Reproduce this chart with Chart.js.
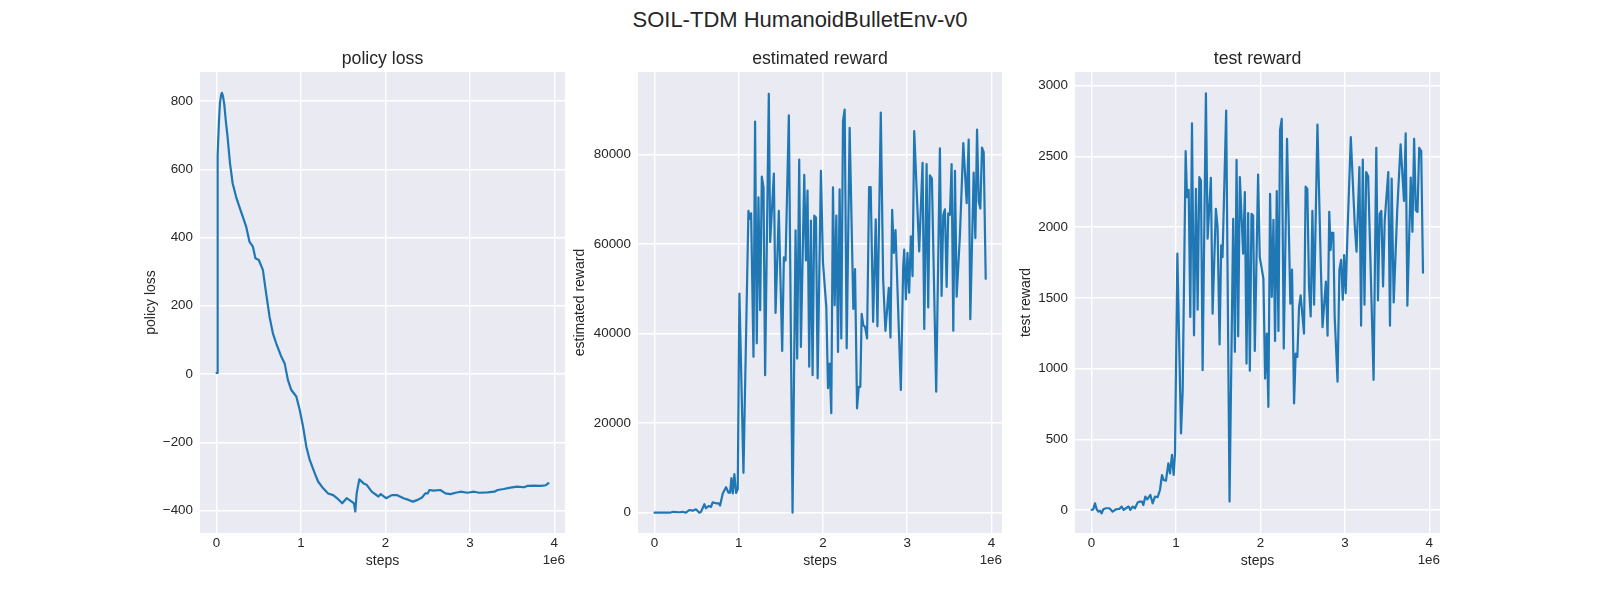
<!DOCTYPE html>
<html>
<head>
<meta charset="utf-8">
<script src="https://cdn.jsdelivr.net/npm/chart.js@4.4.0/dist/chart.umd.min.js"></script>
<style>
  html, body { margin: 0; padding: 0; background: #ffffff; }
  #fig { position: relative; width: 1600px; height: 600px; overflow: hidden; background: #ffffff; }
  .cv { position: absolute; top: 0; }
  #suptitle { position: absolute; left: 0; width: 1600px; top: 9px; text-align: center;
    font-family: "Liberation Sans", Arial, sans-serif; font-size: 22px; line-height: 22px; color: #262626; }
</style>
</head>
<body>
<div id="fig">
  <div id="suptitle">SOIL-TDM HumanoidBulletEnv-v0</div>
  <canvas id="c1" class="cv"></canvas>
  <canvas id="c2" class="cv"></canvas>
  <canvas id="c3" class="cv"></canvas>
</div>
<script>
// ---------------- data ----------------
const panelTitles = ['policy loss', 'estimated reward', 'test reward'];
const xAxisLabel = 'steps';
const xOffsetText = '1e6';
const xTickValues = [0, 1000000, 2000000, 3000000, 4000000];
const policyTicks = [-400, -200, 0, 200, 400, 600, 800];
const estTicks = [0, 20000, 40000, 60000, 80000];
const testTicks = [0, 500, 1000, 1500, 2000, 2500, 3000];

const policySteps = [0, 5000, 9000, 12000, 16000, 28000, 40000, 55000, 63000, 75000,
  91000, 110000, 130000, 159000, 190000, 230000, 270000, 310000, 350000, 389000,
  430000, 460000, 500000, 548000, 587000, 627000, 667000, 706000, 766000, 806000,
  845000, 885000, 944000, 984000, 1024000, 1063000, 1103000, 1163000, 1202000, 1262000,
  1321000, 1381000, 1440000, 1488000, 1540000, 1600000, 1627000, 1643000, 1659000, 1690000,
  1738000, 1778000, 1837000, 1917000, 1944000, 2008000, 2075000, 2135000, 2214000, 2274000,
  2325000, 2381000, 2433000, 2472000, 2500000, 2520000, 2570000, 2650000, 2710000, 2770000,
  2830000, 2890000, 2970000, 3050000, 3110000, 3210000, 3290000, 3330000, 3400000, 3480000,
  3560000, 3640000, 3680000, 3760000, 3840000, 3900000, 3930000];
const policyLoss = [3, 3, 300, 570, 640, 740, 795, 820, 824, 815,
  790, 740, 695, 617, 559, 520, 490, 461, 432, 388,
  373, 339, 334, 305, 236, 168, 119, 90, 51, 31,
  -18, -47, -66, -105, -154, -213, -252, -291, -315, -335,
  -350, -355, -367, -379, -364, -374, -379, -403, -350, -309,
  -320, -325, -345, -359, -352, -364, -355, -355, -364, -369,
  -374, -369, -362, -350, -350, -340, -342, -340, -350, -352,
  -348, -345, -348, -345, -348, -347, -345, -340, -337, -333,
  -330, -332, -328, -327, -328, -326, -320];

const estSteps = [0, 180000, 220000, 294000, 333000, 373000, 413000, 452000, 492000, 532000,
  552000, 592000, 611000, 643000, 671000, 690000, 730000, 762000, 778000, 810000,
  849000, 877000, 897000, 913000, 929000, 948000, 968000, 988000, 1008000, 1056000,
  1115000, 1131000, 1147000, 1175000, 1194000, 1214000, 1234000, 1254000, 1274000, 1294000,
  1313000, 1357000, 1373000, 1417000, 1437000, 1476000, 1516000, 1536000, 1556000, 1595000,
  1639000, 1675000, 1694000, 1718000, 1738000, 1778000, 1798000, 1817000, 1837000, 1857000,
  1877000, 1897000, 1917000, 1937000, 1976000, 2000000, 2040000, 2060000, 2079000, 2099000,
  2119000, 2139000, 2159000, 2179000, 2198000, 2218000, 2238000, 2258000, 2282000, 2317000,
  2361000, 2381000, 2405000, 2425000, 2444000, 2460000, 2480000, 2500000, 2524000, 2548000,
  2567000, 2596000, 2627000, 2647000, 2687000, 2715000, 2742000, 2782000, 2802000, 2822000,
  2842000, 2862000, 2925000, 2953000, 2965000, 2985000, 3004000, 3024000, 3044000, 3064000,
  3084000, 3143000, 3183000, 3203000, 3231000, 3250000, 3270000, 3294000, 3345000, 3389000,
  3409000, 3429000, 3449000, 3469000, 3488000, 3508000, 3528000, 3548000, 3568000, 3588000,
  3627000, 3667000, 3707000, 3731000, 3750000, 3790000, 3810000, 3830000, 3850000, 3869000,
  3889000, 3909000, 3933000];
const estReward = [0, 0, 200, 100, 200, 0, 600, 450, 750, 0,
  200, 1900, 1000, 1500, 1300, 2300, 2100, 2100, 1600, 4300,
  5700, 4500, 4500, 7700, 4300, 8600, 4400, 5200, 48900, 8900,
  67400, 65600, 66800, 34800, 87300, 37800, 70400, 45200, 75000, 72600,
  30700, 93500, 60400, 75700, 44600, 67400, 36100, 57000, 56300, 88700,
  0, 63000, 34400, 78800, 37000, 75400, 56300, 71900, 32600, 65200,
  30700, 66300, 65900, 30000, 76300, 55900, 45900, 27800, 33300, 22200,
  72600, 46300, 66300, 35900, 72200, 38900, 87400, 90000, 36700, 85900,
  45500, 54400, 23300, 28100, 28100, 44400, 41800, 41500, 38900, 72700,
  72700, 42600, 65500, 41600, 89300, 52000, 40600, 50200, 39100, 67600,
  58000, 63100, 27400, 54900, 58700, 47600, 58000, 49100, 61700, 52800,
  85200, 58300, 78100, 41000, 77800, 45800, 75300, 74600, 27000, 81300,
  48400, 66500, 67700, 50400, 66800, 66500, 77800, 40600, 76300, 48200,
  62000, 82500, 69100, 83300, 43200, 75900, 61300, 85500, 69400, 67900,
  81500, 80500, 52200];

const testSteps = [0, 20000, 40000, 60000, 80000, 100000, 119000, 139000, 170000, 210000,
  250000, 290000, 328000, 356000, 380000, 407000, 439000, 459000, 486000, 514000,
  545000, 573000, 597000, 613000, 636000, 660000, 696000, 723000, 751000, 782000,
  810000, 834000, 853000, 881000, 909000, 929000, 952000, 972000, 988000, 1016000,
  1059000, 1079000, 1114000, 1130000, 1150000, 1169000, 1189000, 1213000, 1236000, 1256000,
  1276000, 1295000, 1315000, 1354000, 1374000, 1413000, 1433000, 1472000, 1492000, 1516000,
  1535000, 1551000, 1594000, 1634000, 1677000, 1697000, 1717000, 1736000, 1756000, 1795000,
  1815000, 1835000, 1854000, 1874000, 1894000, 1913000, 1933000, 1972000, 1992000, 2035000,
  2055000, 2075000, 2094000, 2114000, 2134000, 2154000, 2173000, 2193000, 2213000, 2232000,
  2252000, 2276000, 2315000, 2354000, 2374000, 2398000, 2417000, 2437000, 2457000, 2476000,
  2516000, 2535000, 2555000, 2575000, 2595000, 2615000, 2635000, 2675000, 2715000, 2735000,
  2775000, 2795000, 2815000, 2831000, 2843000, 2863000, 2879000, 2913000, 2935000, 2955000,
  2975000, 2991000, 3010000, 3030000, 3070000, 3118000, 3138000, 3172000, 3192000, 3212000,
  3232000, 3252000, 3276000, 3340000, 3372000, 3392000, 3412000, 3432000, 3452000, 3472000,
  3514000, 3534000, 3554000, 3578000, 3620000, 3660000, 3700000, 3720000, 3740000, 3780000,
  3800000, 3820000, 3840000, 3860000, 3880000, 3904000, 3925000];
const testReward = [0, 5, 47, 5, -12, -5, -24, 5, 12, 12,
  -12, 5, 7, 24, 0, 12, 24, 0, 24, 12,
  52, 59, 59, 35, 94, 75, 106, 47, 94, 90,
  141, 247, 212, 207, 330, 259, 389, 247, 400, 1812,
  541, 847, 2537, 2212, 2264, 1365, 2734, 1235, 2271, 1416,
  2353, 2330, 988, 2946, 1918, 2348, 1388, 2130, 2000, 1170,
  1871, 1788, 2824, 59, 2059, 1118, 2475, 1228, 2353, 1812,
  2247, 1035, 2099, 984, 2094, 2082, 1125, 2372, 1788, 1635,
  929, 1247, 729, 2235, 1506, 2052, 1195, 2254, 1266, 2687,
  2765, 1141, 2624, 1459, 1699, 753, 1106, 1082, 1435, 1518,
  1247, 2287, 2271, 1580, 1369, 2115, 1451, 2725, 1721, 1293,
  1615, 1232, 2108, 1838, 1960, 1960, 1369, 907, 1697, 1768,
  1486, 1803, 1533, 1944, 2636, 2002, 1826, 2425, 1303, 2477,
  1451, 2390, 2359, 920, 2561, 1481, 2092, 2115, 1580, 2050,
  2390, 1303, 2343, 1467, 2120, 2585, 2185, 2664, 1444, 2350,
  1967, 2624, 2120, 2108, 2561, 2538, 1678];

// ---------------- layout / style ----------------
const FONT = '"Liberation Sans", Arial, sans-serif';
const TXT = '#262626';
const LINE = '#1f77b4';
const BG = '#EAEAF2';
const Y_AXIS_W = 90, X_AXIS_H = 45, PAD_R = 40, CANVAS_H = 600;
const PLOT_TOP = 72, PLOT_BOTTOM = 533;

const X_MIN = -196500, X_MAX = 4126500;

function fmtNum(v) {
  const s = String(Math.round(v));
  return s.replace('-', '\u2212');
}

const bgPlugin = {
  id: 'axesBg',
  beforeDraw(chart) {
    const a = chart.chartArea, ctx = chart.ctx;
    ctx.save();
    ctx.fillStyle = BG;
    ctx.fillRect(a.left, a.top, a.right - a.left, a.bottom - a.top);
    ctx.restore();
  },
  afterDraw(chart) {
    const a = chart.chartArea, ctx = chart.ctx;
    ctx.save();
    ctx.fillStyle = TXT;
    ctx.font = '13.4px ' + FONT;
    ctx.textAlign = 'right';
    ctx.textBaseline = 'middle';
    ctx.fillText(xOffsetText, a.right, 560);
    ctx.restore();
  }
};

function makeChart(id, plotLeft, plotRight, title, steps, values, yMin, yMax, yTicks, yTitlePad) {
  const cv = document.getElementById(id);
  const left = plotLeft - Y_AXIS_W;
  const width = (plotRight - plotLeft) + Y_AXIS_W + PAD_R;
  cv.width = width; cv.height = CANVAS_H;
  cv.style.left = left + 'px';
  cv.style.width = width + 'px'; cv.style.height = CANVAS_H + 'px';
  const data = steps.map((x, i) => ({x: x, y: values[i]}));
  const titleLH = 17.7 * 1.2;
  const titlePadTop = 48.9;
  const titlePadBottom = PLOT_TOP - titlePadTop - titleLH;
  return new Chart(cv, {
    type: 'line',
    data: { datasets: [{ data: data, borderColor: LINE, borderWidth: 2.2, pointRadius: 0,
      tension: 0, fill: false, borderJoinStyle: 'round', borderCapStyle: 'round' }] },
    plugins: [bgPlugin],
    options: {
      responsive: false, animation: false, devicePixelRatio: 1,
      layout: { padding: { left: 0, right: PAD_R, top: 0, bottom: CANVAS_H - PLOT_BOTTOM - X_AXIS_H } },
      plugins: {
        legend: { display: false }, tooltip: { enabled: false },
        title: { display: true, text: title, fullSize: false, color: TXT,
          font: { family: FONT, size: 17.7, weight: 'normal', lineHeight: 1.2 },
          padding: { top: titlePadTop, bottom: titlePadBottom } }
      },
      scales: {
        x: {
          type: 'linear', min: X_MIN, max: X_MAX,
          border: { display: false },
          grid: { color: '#ffffff', lineWidth: 1.4, drawTicks: false },
          afterBuildTicks: s => { s.ticks = xTickValues.map(v => ({ value: v })); },
          ticks: { padding: 2, color: TXT, maxRotation: 0, autoSkip: false,
            font: { family: FONT, size: 13.4 },
            callback: v => fmtNum(v / 1000000) },
          title: { display: true, text: xAxisLabel, color: TXT, font: { family: FONT, size: 14 },
            padding: { top: 0, bottom: 8.6 } },
          afterFit: s => { s.height = X_AXIS_H; s.paddingLeft = 0; s.paddingRight = 0; s.paddingTop = 0; s.paddingBottom = 0; }
        },
        y: {
          type: 'linear', min: yMin, max: yMax,
          border: { display: false },
          grid: { color: '#ffffff', lineWidth: 1.4, drawTicks: false },
          afterBuildTicks: s => { s.ticks = yTicks.map(v => ({ value: v })); },
          ticks: { padding: 7, color: TXT, autoSkip: false,
            font: { family: FONT, size: 13.4 }, callback: v => fmtNum(v) },
          title: { display: true, text: title, color: TXT, font: { family: FONT, size: 14 },
            padding: { top: yTitlePad, bottom: 0 } },
          afterFit: s => { s.width = Y_AXIS_W; s.paddingLeft = 0; s.paddingRight = 0; s.paddingTop = 0; s.paddingBottom = 0; }
        }
      }
    }
  });
}

makeChart('c1', 200, 565, panelTitles[0], policySteps, policyLoss, -466, 885, policyTicks, 32.3);
makeChart('c2', 638, 1002, panelTitles[1], estSteps, estReward, -4531, 98370, estTicks, 23.6);
makeChart('c3', 1075, 1440, panelTitles[2], testSteps, testReward, -163, 3097, testTicks, 32.3);
</script>
</body>
</html>
